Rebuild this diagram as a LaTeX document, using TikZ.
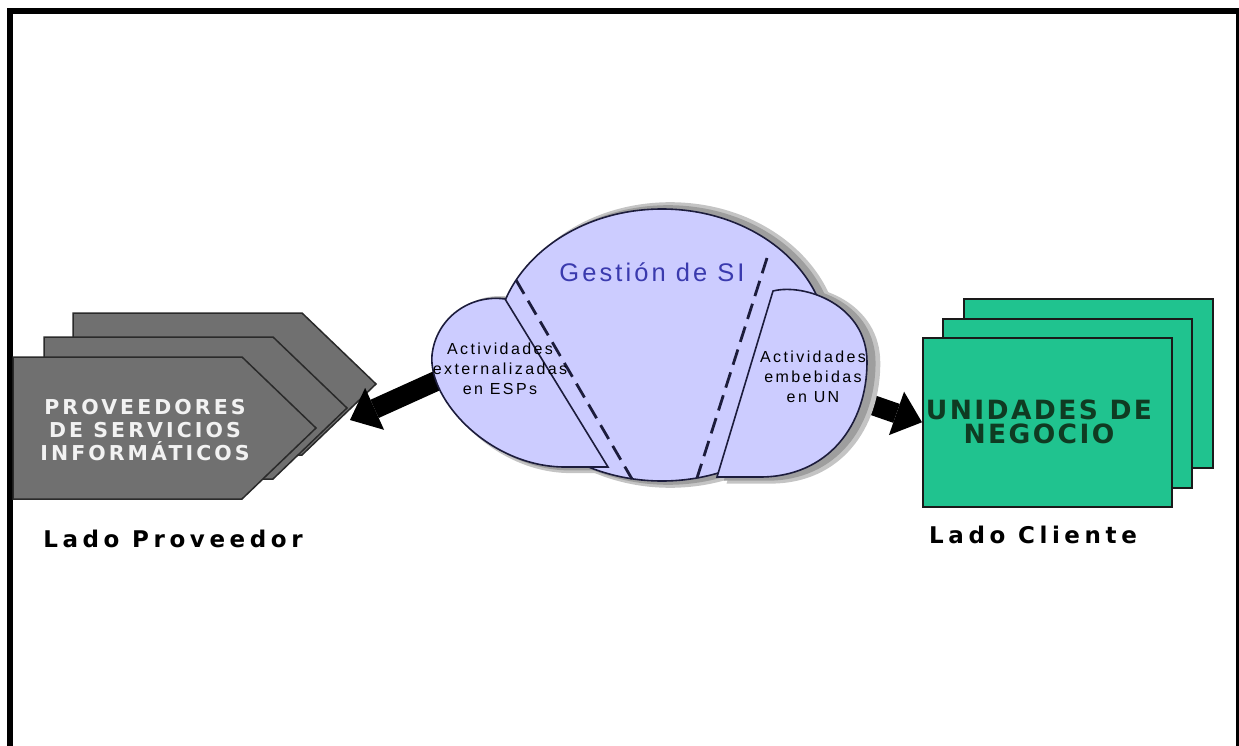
\documentclass[tikz,border=0pt]{standalone}
\usepackage{fontspec}
\setmainfont{Liberation Sans}
\newfontfamily\sideLabelFont[LetterSpace=20]{DejaVu Sans}
\newfontfamily\provFont[LetterSpace=15]{DejaVu Sans}
\newfontfamily\unitFont[LetterSpace=9]{DejaVu Sans}
\newfontfamily\titleFont[LetterSpace=12]{Liberation Sans}
\newfontfamily\lobeFont[LetterSpace=15]{Liberation Sans}
\usetikzlibrary{arrows.meta}

\definecolor{cloudfill}{HTML}{CCCCFF}
\definecolor{cloudline}{HTML}{1C1C3C}
\definecolor{titleblue}{HTML}{3A3AAE}
\definecolor{chevfill}{HTML}{707070}
\definecolor{chevline}{HTML}{2A2A2A}
\definecolor{chevtext}{HTML}{F2F2F2}
\definecolor{unitfill}{HTML}{20C38F}
\definecolor{unitline}{HTML}{1A1A1A}
\definecolor{unittext}{HTML}{0F3B22}
\definecolor{shadowsoft}{HTML}{C4C4C4}
\definecolor{shadowdeep}{HTML}{9E9E9E}

% provider chevron: top-left corner, then a pointed right end
\newcommand\chevpath[2]{(#1,#2) -- ++(229,0) -- ++(74,71) -- ++(-74,71) -- ++(-229,0) -- cycle}
% the three parts of the "Gestion de SI" cloud
\newcommand\cloudbody{(662,345) ellipse [x radius=166pt, y radius=136pt]}
\newcommand\lobeleft{(505,299) .. controls (470,294) and (436,318) .. (432,355) .. controls (428,400) and (490,467) .. (565,467) -- (608,467) -- cycle}
\newcommand\loberight{(773,291) .. controls (805,283) and (867,305) .. (867,362) .. controls (867,425) and (828,477) .. (760,477) -- (717,477) -- cycle}

\begin{document}
\begin{tikzpicture}[x=1pt,y=-1pt,
  frame/.style={fill=black},
  chev/.style={fill=chevfill, draw=chevline, line width=1.5pt, line join=miter},
  unitbox/.style={fill=unitfill, draw=unitline, line width=1.5pt, inner sep=0pt,
    minimum width=249pt, minimum height=169pt, anchor=north west},
  cloud/.style={fill=cloudfill, draw=cloudline, line width=1.6pt},
  divider/.style={draw=cloudline, line width=2.8pt, dash pattern=on 16pt off 8pt},
  bigarrow/.style={line width=20pt, -{Triangle[length=27pt, width=46pt, line width=0pt]}},
  sidelabel/.style={font=\sideLabelFont\bfseries\fontsize{23}{28}\selectfont, inner sep=0pt, anchor=base},
  lobetext/.style={font=\lobeFont\fontsize{16}{20}\selectfont, align=center, inner sep=0pt, anchor=north},
]
\useasboundingbox (0,0) rectangle (1239,746);

% page frame (open at the bottom)
\fill[frame] (7,8) rectangle (1239,14);
\fill[frame] (7,8) rectangle (13,746);
\fill[frame] (1236,8) rectangle (1239,746);

% stacked provider chevrons, back to front
\filldraw[chev] \chevpath{73}{313};
\filldraw[chev] \chevpath{44}{337};
\filldraw[chev] \chevpath{13}{357};
\node[font=\provFont\bfseries\fontsize{20.5}{23}\selectfont, text=chevtext, align=center,
      inner sep=0pt, anchor=north] (provText) at (145,399)
      {PROVEEDORES\\DE SERVICIOS\\INFORMÁTICOS};

% stacked business-unit sheets, back to front
\node[unitbox] (unBack)  at (963,298) {};
\node[unitbox] (unMid)   at (942,318) {};
\node[unitbox] (unFront) at (922,337) {};
\node[font=\unitFont\bfseries\fontsize{26.5}{24}\selectfont, text=unittext, align=center,
      inner sep=0pt, anchor=north] (unText) at (1039,400)
      {UNIDADES DE\\NEGOCIO};

% flows out of the cloud
\coordinate (extOut) at (465,368);
\coordinate (provIn) at (350,420);
\coordinate (embOut) at (835,392);
\draw[bigarrow] (extOut) -- (provIn);
\draw[bigarrow] (embOut) -- (unFront.west);

% cloud drop shadow
\begin{scope}[xshift=8pt, shift={(655,345)}, xscale=1.025, yscale=1.05, shift={(-655,-345)}]
  \fill[shadowsoft] \cloudbody;
  \fill[shadowsoft] \lobeleft;
  \fill[shadowsoft] \loberight;
\end{scope}
\begin{scope}[xshift=6pt, shift={(655,345)}, xscale=1.012, yscale=1.028, shift={(-655,-345)}]
  \fill[shadowdeep] \cloudbody;
  \fill[shadowdeep] \lobeleft;
  \fill[shadowdeep] \loberight;
\end{scope}

% cloud
\filldraw[cloud] \cloudbody;
\filldraw[cloud] \lobeleft;
\filldraw[cloud] \loberight;
\draw[divider] (516,280) -- (632,479);
\draw[divider] (767,258) -- (697,478);

\node[font=\titleFont\fontsize{25.5}{30}\selectfont, text=titleblue, inner sep=0pt, anchor=base]
      (titleSI) at (652,281) {Gestión de SI};
\node[lobetext] (actExt) at (500,343) {Actividades\\externalizadas\\en ESPs};
\node[lobetext] (actEmb) at (813,351) {Actividades\\embebidas\\en UN};

% side captions
\node[sidelabel] (ladoProv) at (173,547) {Lado Proveedor};
\node[sidelabel] (ladoCli)  at (1033,543) {Lado Cliente};
\end{tikzpicture}
\end{document}
